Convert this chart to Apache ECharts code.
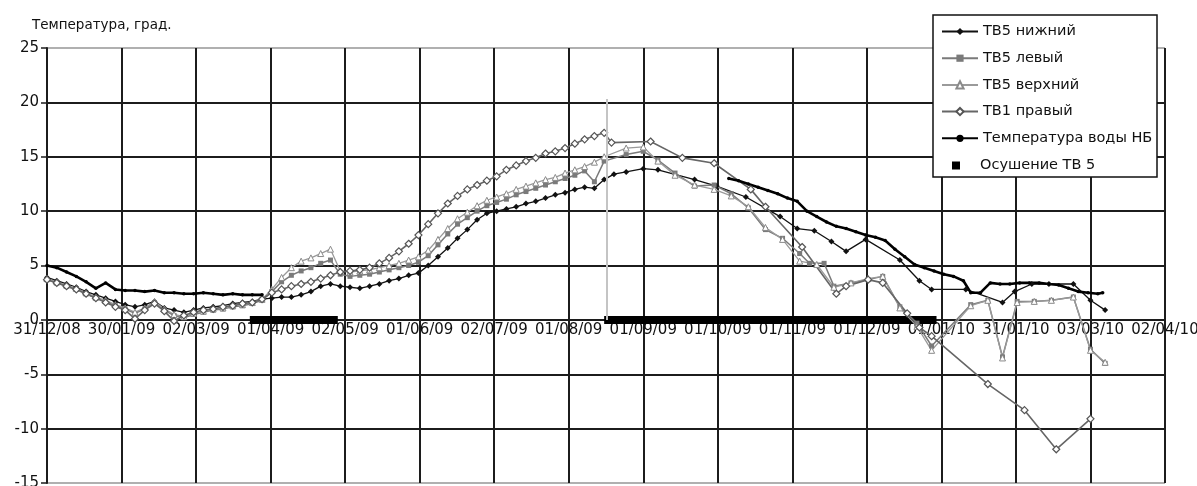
<!DOCTYPE html>
<html>
<head>
<meta charset="utf-8">
<script src="https://cdn.jsdelivr.net/npm/echarts@6/dist/echarts.min.js"></script>
<style>
  html, body { margin: 0; padding: 0; background: #fff; }
  #chart { width: 1197px; height: 486px; }
</style>
</head>
<body>
<div id="chart"></div>
<script>
// Daily survey period (every 4th day shown), 31.12.2008 - 16.08.2009
const surveyDates = [
  '2008-12-31','2009-01-04','2009-01-08','2009-01-12','2009-01-16','2009-01-20','2009-01-24','2009-01-28',
  '2009-02-01','2009-02-05','2009-02-09','2009-02-13','2009-02-17','2009-02-21','2009-02-25','2009-03-01',
  '2009-03-05','2009-03-09','2009-03-13','2009-03-17','2009-03-21','2009-03-25','2009-03-29','2009-04-02',
  '2009-04-06','2009-04-10','2009-04-14','2009-04-18','2009-04-22','2009-04-26','2009-04-30','2009-05-04',
  '2009-05-08','2009-05-12','2009-05-16','2009-05-20','2009-05-24','2009-05-28','2009-06-01','2009-06-05',
  '2009-06-09','2009-06-13','2009-06-17','2009-06-21','2009-06-25','2009-06-29','2009-07-03','2009-07-07',
  '2009-07-11','2009-07-15','2009-07-19','2009-07-23','2009-07-27','2009-07-31','2009-08-04','2009-08-08',
  '2009-08-12','2009-08-16'
];

const tv5LowerDaily = [
  3.9, 3.6, 3.3, 3.0, 2.6, 2.3, 2.0, 1.7, 1.4, 1.2, 1.4, 1.7, 1.1, 0.9, 0.7, 0.9, 1.1, 1.2, 1.3, 1.5, 1.6, 1.7, 1.9,
  2.0, 2.1, 2.1, 2.3, 2.6, 3.1, 3.3, 3.1, 3.0, 2.9, 3.1, 3.3, 3.6, 3.8, 4.1, 4.3, 5.0, 5.8, 6.6, 7.5,
  8.3, 9.2, 9.8, 10.0, 10.2, 10.4, 10.7, 10.9, 11.2, 11.5, 11.7, 12.0, 12.2, 12.1, 12.9
];
const tv5LeftDaily = [
  3.7, 3.4, 3.1, 2.8, 2.4, 2.0, 1.7, 1.3, 1.0, 0.6, 1.0, 1.6, 0.9, 0.4, 0.2, 0.5, 0.7, 0.9, 1.0, 1.2, 1.3, 1.5, 1.8,
  2.6, 3.5, 4.1, 4.5, 4.8, 5.2, 5.5, 4.2, 4.0, 4.1, 4.2, 4.4, 4.6, 4.8, 5.0, 5.3, 5.9, 6.9, 7.9, 8.8,
  9.4, 10.0, 10.5, 10.8, 11.1, 11.5, 11.8, 12.1, 12.4, 12.7, 13.0, 13.3, 13.7, 12.7, 14.6
];
const tv5UpperDaily = [
  3.8, 3.5, 3.2, 2.9, 2.5, 2.1, 1.8, 1.4, 1.1, 0.7, 1.1, 1.7, 1.0, 0.5, 0.3, 0.6, 0.8, 1.0, 1.1, 1.3, 1.4, 1.6, 1.9,
  2.8, 3.9, 4.8, 5.4, 5.7, 6.1, 6.5, 4.5, 4.4, 4.5, 4.6, 4.8, 5.0, 5.2, 5.5, 5.8, 6.4, 7.4, 8.4, 9.3,
  9.9, 10.5, 11.0, 11.3, 11.6, 12.0, 12.3, 12.6, 12.9, 13.1, 13.5, 13.8, 14.1, 14.5, 15.0
];
const tv1RightDaily = [
  3.7, 3.4, 3.1, 2.8, 2.4, 2.0, 1.6, 1.2, 0.9, 0.1, 0.9, 1.5, 0.8, -0.1, 0.4, 0.7, 0.9, 1.0, 1.2, 1.3, 1.5, 1.6, 1.9,
  2.5, 2.8, 3.1, 3.3, 3.5, 3.8, 4.1, 4.4, 4.5, 4.6, 4.8, 5.2, 5.7, 6.3, 7.0, 7.8, 8.8, 9.8, 10.7, 11.4,
  12.0, 12.4, 12.8, 13.2, 13.8, 14.2, 14.6, 14.9, 15.3, 15.5, 15.8, 16.2, 16.6, 16.9, 17.2
];
// Downstream water temperature, winter part of the survey period
const riverDaily = [
  5.0, 4.8, 4.4, 4.0, 3.5, 2.9, 3.4, 2.8, 2.7, 2.7, 2.6, 2.7, 2.5, 2.5, 2.4, 2.4, 2.5, 2.4, 2.3, 2.4, 2.3, 2.3, 2.3
];

// Weekly readings, autumn 2009 - spring 2010
const tv5LowerWeekly = [
  ['2009-08-20', 13.4], ['2009-08-25', 13.6], ['2009-09-01', 13.9], ['2009-09-07', 13.8], ['2009-09-22', 12.9],
  ['2009-10-01', 12.3], ['2009-10-13', 11.3], ['2009-10-27', 9.5], ['2009-11-03', 8.4], ['2009-11-10', 8.2],
  ['2009-11-17', 7.2], ['2009-11-23', 6.3], ['2009-12-01', 7.4], ['2009-12-15', 5.5], ['2009-12-23', 3.6],
  ['2009-12-28', 2.8], ['2010-01-11', 2.8], ['2010-01-26', 1.6], ['2010-01-31', 2.6], ['2010-02-07', 3.3],
  ['2010-02-14', 3.3], ['2010-02-24', 3.3], ['2010-03-03', 1.8], ['2010-03-09', 0.9]
];
const tv5LeftWeekly = [
  ['2009-08-25', 15.2], ['2009-09-01', 15.5], ['2009-09-07', 14.7], ['2009-09-14', 13.5], ['2009-09-22', 12.3],
  ['2009-09-30', 12.4], ['2009-10-07', 11.6], ['2009-10-14', 10.3], ['2009-10-21', 8.3], ['2009-10-28', 7.5],
  ['2009-11-04', 6.1], ['2009-11-08', 5.2], ['2009-11-14', 5.2], ['2009-11-18', 3.1], ['2009-11-25', 3.4],
  ['2009-12-02', 3.7], ['2009-12-08', 4.0], ['2009-12-15', 1.2], ['2009-12-22', -0.3], ['2009-12-28', -2.4],
  ['2010-01-13', 1.4], ['2010-01-20', 1.8], ['2010-01-26', -3.4], ['2010-02-01', 1.7], ['2010-02-08', 1.7],
  ['2010-02-15', 1.8], ['2010-02-24', 2.1], ['2010-03-03', -2.7], ['2010-03-09', -4.0]
];
const tv5UpperWeekly = [
  ['2009-08-25', 15.8], ['2009-09-01', 15.9], ['2009-09-07', 14.6], ['2009-09-14', 13.3], ['2009-09-22', 12.4],
  ['2009-09-30', 12.0], ['2009-10-07', 11.4], ['2009-10-14', 10.4], ['2009-10-21', 8.5], ['2009-10-28', 7.4],
  ['2009-11-04', 5.4], ['2009-11-11', 5.1], ['2009-11-18', 3.0], ['2009-11-25', 3.4], ['2009-12-02', 3.8],
  ['2009-12-08', 4.0], ['2009-12-15', 1.1], ['2009-12-22', -0.6], ['2009-12-28', -2.8], ['2010-01-13', 1.3],
  ['2010-01-20', 1.8], ['2010-01-26', -3.5], ['2010-02-01', 1.6], ['2010-02-08', 1.7], ['2010-02-15', 1.8],
  ['2010-02-24', 2.1], ['2010-03-03', -2.8], ['2010-03-09', -3.9]
];
const tv1RightWeekly = [
  ['2009-08-19', 16.3], ['2009-09-04', 16.4], ['2009-09-17', 14.9], ['2009-09-30', 14.4], ['2009-10-15', 12.0],
  ['2009-10-21', 10.4], ['2009-11-05', 6.7], ['2009-11-19', 2.4], ['2009-11-23', 3.1], ['2009-12-02', 3.7],
  ['2009-12-08', 3.4], ['2009-12-18', 0.6], ['2009-12-23', -0.7], ['2009-12-28', -1.5], ['2010-01-20', -5.9],
  ['2010-02-04', -8.3], ['2010-02-17', -11.9], ['2010-03-03', -9.1]
];
const riverAutumn = [
  ['2009-10-06', 13.0], ['2009-10-10', 12.8], ['2009-10-14', 12.5], ['2009-10-18', 12.2], ['2009-10-22', 11.9],
  ['2009-10-26', 11.6], ['2009-10-30', 11.2], ['2009-11-03', 10.9], ['2009-11-07', 10.0], ['2009-11-11', 9.5],
  ['2009-11-15', 9.0], ['2009-11-19', 8.6], ['2009-11-23', 8.4], ['2009-11-27', 8.1], ['2009-12-01', 7.8],
  ['2009-12-05', 7.6], ['2009-12-09', 7.3], ['2009-12-13', 6.5], ['2009-12-17', 5.8], ['2009-12-21', 5.1],
  ['2009-12-25', 4.8], ['2009-12-29', 4.5], ['2010-01-02', 4.2], ['2010-01-06', 4.0], ['2010-01-10', 3.6],
  ['2010-01-13', 2.5], ['2010-01-17', 2.5], ['2010-01-21', 3.4], ['2010-01-25', 3.3], ['2010-01-29', 3.3],
  ['2010-02-02', 3.4], ['2010-02-06', 3.4], ['2010-02-10', 3.4], ['2010-02-14', 3.3], ['2010-02-18', 3.2],
  ['2010-02-22', 2.9], ['2010-02-26', 2.6], ['2010-03-02', 2.5], ['2010-03-06', 2.4], ['2010-03-08', 2.5]
];

// Periods when TV 5 was drained
const drainagePeriods = [['2009-03-24', '2009-04-29'], ['2009-08-16', '2009-12-30']];
const drainageMarkDate = '2009-08-17';

const seriesNames = ['ТВ5 нижний', 'ТВ5 левый', 'ТВ5 верхний', 'ТВ1 правый', 'Температура воды НБ'];
const drainageName = 'Осушение ТВ 5';
const yTicks = { min: -15, max: 25, step: 5 };

// x axis: days counted from 31.12.2008, major step of 30.5 days
const ORIGIN = Date.UTC(2008, 11, 31);
const DAY = 86400000;
const toDay = s => {
  const [y, m, d] = s.split('-').map(Number);
  return (Date.UTC(y, m - 1, d) - ORIGIN) / DAY;
};
const fmtDay = v => {
  const dt = new Date(ORIGIN + Math.floor(v + 1e-6) * DAY);
  const p = n => String(n).padStart(2, '0');
  return p(dt.getUTCDate()) + '/' + p(dt.getUTCMonth() + 1) + '/' + p(dt.getUTCFullYear() % 100);
};
const daily = (vals) => vals.map((v, i) => [toDay(surveyDates[i]), v]);
const weekly = (pairs) => pairs.map(([d, v]) => [toDay(d), v]);

const riverData = daily(riverDaily).concat([[180, null]], weekly(riverAutumn));
const drainageData = [];
drainagePeriods.forEach(([a, b], i) => {
  if (i) drainageData.push([(toDay(a) + toDay(drainagePeriods[i - 1][1])) / 2, null]);
  drainageData.push([toDay(a), 0], [toDay(b), 0]);
});

// plot area and the date axis placed on the zero line
const W = 1197, H = 486;
const gridBox = { left: 47, right: 32, top: 48, bottom: 3 };
const plotH = H - gridBox.top - gridBox.bottom;
const zeroOffset = -plotH * (0 - yTicks.min) / (yTicks.max - yTicks.min);

const FONT = 'DejaVu Sans';
const GRID = '#1c1c1c';
const yLineColors = [];
for (let v = yTicks.min; v <= yTicks.max; v += yTicks.step) {
  yLineColors.push(v === yTicks.min || v === yTicks.max ? '#b0b0b0' : GRID);
}

const chart = echarts.init(document.getElementById('chart'));
chart.setOption({
  animation: false,
  backgroundColor: '#fff',
  title: {
    text: 'Температура, град.',
    left: 27, top: 13,
    textStyle: { fontFamily: FONT, fontSize: 13.5, fontWeight: 'normal', color: '#111' }
  },
  grid: Object.assign({ containLabel: false, outerBoundsMode: 'none' }, gridBox),
  xAxis: {
    type: 'value', min: 0, max: 457.5, interval: 30.5,
    position: 'bottom', offset: zeroOffset,
    axisLine: { onZero: false, lineStyle: { color: GRID, width: 2 } },
    axisTick: { show: false },
    axisLabel: { formatter: fmtDay, fontFamily: FONT, fontSize: 15, color: '#111', margin: 3, showMinLabel: true, showMaxLabel: true },
    splitLine: { show: true, lineStyle: { color: GRID, width: 2 } }
  },
  yAxis: {
    type: 'value', min: yTicks.min, max: yTicks.max, interval: yTicks.step,
    axisLine: { show: true, onZero: false, lineStyle: { color: GRID, width: 2 } },
    axisTick: { show: true, length: 6, lineStyle: { color: GRID, width: 1.5 } },
    axisLabel: { fontFamily: FONT, fontSize: 15, color: '#111', margin: 8 },
    splitLine: { show: true, lineStyle: { color: yLineColors, width: 2 } }
  },
  graphic: [{
    type: 'rect', z: 3,
    shape: { x: 933, y: 15, width: 224, height: 162 },
    style: { fill: '#fff', stroke: '#111', lineWidth: 1.5 }
  }],
  legend: [{
    data: seriesNames,
    orient: 'vertical', left: 941, top: 24, padding: 0,
    itemWidth: 36, itemHeight: 9, itemGap: 11.7, z: 5,
    textStyle: { fontFamily: FONT, fontSize: 14.5, color: '#111' }
  }, {
    data: [drainageName],
    orient: 'vertical', left: 952, top: 158, padding: 0,
    itemWidth: 8, itemHeight: 8, z: 5,
    icon: 'rect',
    itemStyle: { color: '#000' },
    textStyle: { fontFamily: FONT, fontSize: 14.5, color: '#111', padding: [0, 0, 0, 15] }
  }],
  series: [
    {
      name: drainageName, type: 'line', data: drainageData,
      symbol: 'none', itemStyle: { color: '#000' },
      lineStyle: { color: '#000', width: 8, cap: 'butt' },
      markLine: {
        silent: true, symbol: 'none', label: { show: false },
        lineStyle: { color: '#c4c4c4', width: 2, type: 'solid' },
        data: [[{ coord: [toDay(drainageMarkDate), 0] }, { coord: [toDay(drainageMarkDate), 20.3] }]]
      }
    },
    {
      name: seriesNames[0], type: 'line',
      data: daily(tv5LowerDaily).concat(weekly(tv5LowerWeekly)),
      symbol: 'diamond', symbolSize: 6,
      itemStyle: { color: '#111' },
      lineStyle: { color: '#111', width: 1.3 }
    },
    {
      name: seriesNames[1], type: 'line',
      data: daily(tv5LeftDaily).concat(weekly(tv5LeftWeekly)),
      symbol: 'rect', symbolSize: 5,
      itemStyle: { color: '#7a7a7a' },
      lineStyle: { color: '#7a7a7a', width: 1.5 }
    },
    {
      name: seriesNames[2], type: 'line',
      data: daily(tv5UpperDaily).concat(weekly(tv5UpperWeekly)),
      symbol: 'triangle', symbolSize: 6,
      itemStyle: { color: '#fff', borderColor: '#8a8a8a', borderWidth: 1 },
      lineStyle: { color: '#9a9a9a', width: 1.3 }
    },
    {
      name: seriesNames[3], type: 'line',
      data: daily(tv1RightDaily).concat(weekly(tv1RightWeekly)),
      symbol: 'diamond', symbolSize: 7,
      itemStyle: { color: '#fff', borderColor: '#555', borderWidth: 1.2 },
      lineStyle: { color: '#666', width: 1.6 }
    },
    {
      name: seriesNames[4], type: 'line', data: riverData,
      symbol: 'circle', symbolSize: 3.5,
      itemStyle: { color: '#000' },
      lineStyle: { color: '#000', width: 2.6 }
    }
  ]
});
</script>
</body>
</html>
